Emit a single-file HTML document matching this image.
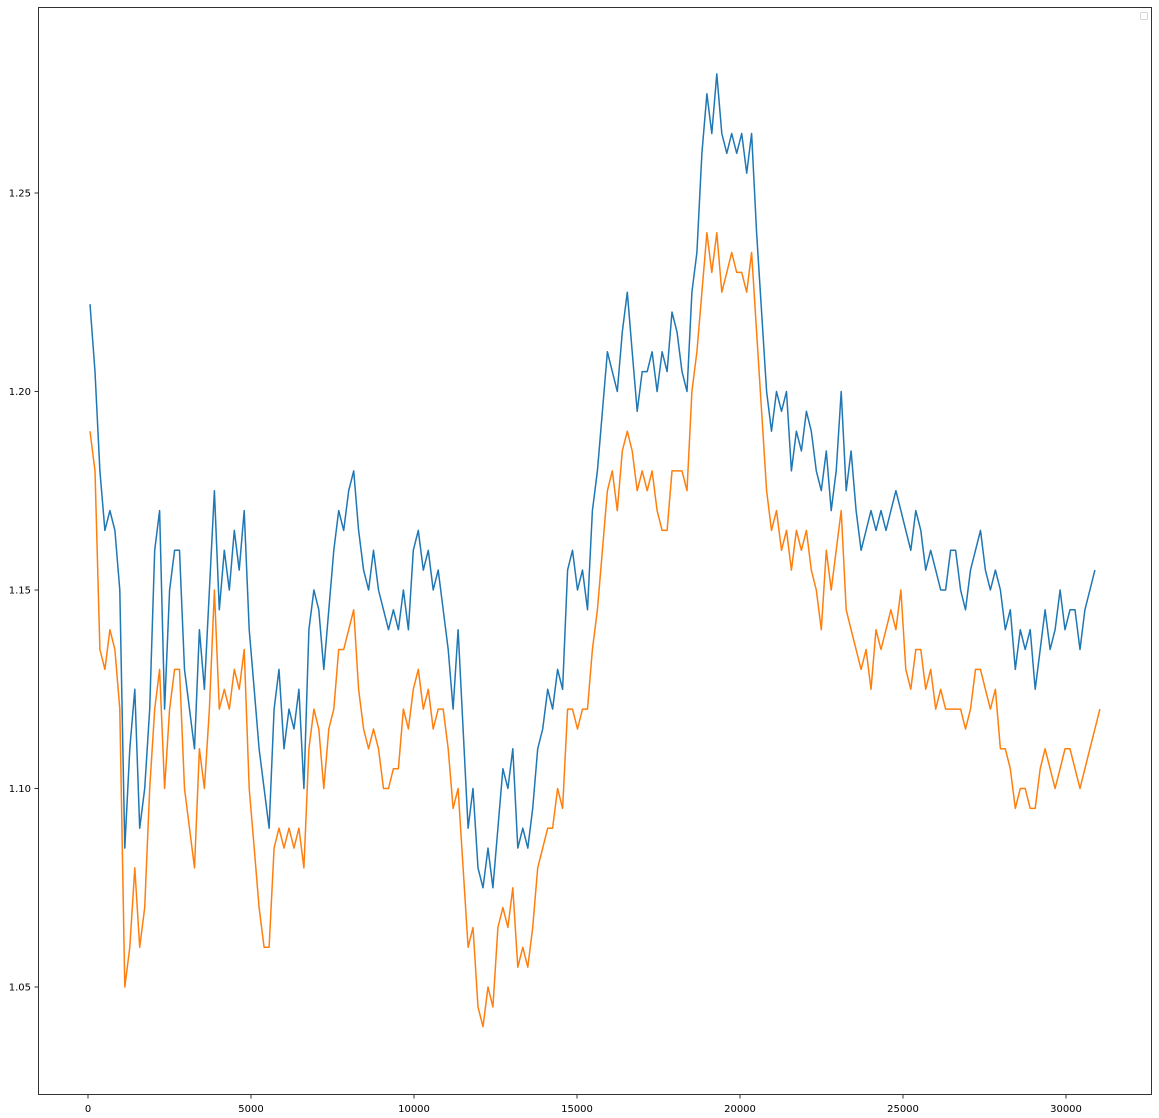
<!DOCTYPE html>
<html>
<head>
<meta charset="utf-8">
<style>
html,body{margin:0;padding:0;background:#fff;}
svg{display:block;font-family:"DejaVu Sans","Liberation Sans",sans-serif;}
</style>
</head>
<body>
<svg id="chart" width="1159" height="1118" viewBox="0 0 1159 1118" xmlns="http://www.w3.org/2000/svg">
  <rect x="0" y="0" width="1159" height="1118" fill="#fff"/>
  <g id="plot"></g>
  <g id="axes"></g>
  <rect x="38.5" y="7.5" width="1113" height="1087" fill="none" stroke="#000" stroke-width="0.8"/>
  <rect x="1140.5" y="12.5" width="7" height="7" fill="#fff" stroke="#ccc" stroke-width="0.8" rx="1"/>
</svg>
<script>
const xTicks = [0, 5000, 10000, 15000, 20000, 25000, 30000];
const xTickLabels = ["0", "5000", "10000", "15000", "20000", "25000", "30000"];
const yTicks = [1.05, 1.10, 1.15, 1.20, 1.25];
const yTickLabels = ["1.05", "1.10", "1.15", "1.20", "1.25"];
const sampleStart = 61;
const sampleStep = 152.6;
const seriesBlue = [1.222,1.205,1.18,1.165,1.17,1.165,1.15,1.085,1.11,1.125,1.09,1.10,1.12,1.16,1.17,1.12,1.15,1.16,1.16,1.13,1.12,1.11,1.14,1.125,1.15,1.175,1.145,1.16,1.15,1.165,1.155,1.17,1.14,1.125,1.11,1.10,1.09,1.12,1.13,1.11,1.12,1.115,1.125,1.10,1.14,1.15,1.145,1.13,1.145,1.16,1.17,1.165,1.175,1.18,1.165,1.155,1.15,1.16,1.15,1.145,1.14,1.145,1.14,1.15,1.14,1.16,1.165,1.155,1.16,1.15,1.155,1.145,1.135,1.12,1.14,1.115,1.09,1.10,1.08,1.075,1.085,1.075,1.09,1.105,1.10,1.11,1.085,1.09,1.085,1.095,1.11,1.115,1.125,1.12,1.13,1.125,1.155,1.16,1.15,1.155,1.145,1.17,1.18,1.195,1.21,1.205,1.20,1.215,1.225,1.21,1.195,1.205,1.205,1.21,1.20,1.21,1.205,1.22,1.215,1.205,1.20,1.225,1.235,1.26,1.275,1.265,1.28,1.265,1.26,1.265,1.26,1.265,1.255,1.265,1.24,1.22,1.20,1.19,1.20,1.195,1.20,1.18,1.19,1.185,1.195,1.19,1.18,1.175,1.185,1.17,1.18,1.20,1.175,1.185,1.17,1.16,1.165,1.17,1.165,1.17,1.165,1.17,1.175,1.17,1.165,1.16,1.17,1.165,1.155,1.16,1.155,1.15,1.15,1.16,1.16,1.15,1.145,1.155,1.16,1.165,1.155,1.15,1.155,1.15,1.14,1.145,1.13,1.14,1.135,1.14,1.125,1.135,1.145,1.135,1.14,1.15,1.14,1.145,1.145,1.135,1.145,1.15,1.155];
const seriesOrange = [1.19,1.18,1.135,1.13,1.14,1.135,1.12,1.05,1.06,1.08,1.06,1.07,1.10,1.12,1.13,1.10,1.12,1.13,1.13,1.10,1.09,1.08,1.11,1.10,1.12,1.15,1.12,1.125,1.12,1.13,1.125,1.135,1.10,1.085,1.07,1.06,1.06,1.085,1.09,1.085,1.09,1.085,1.09,1.08,1.11,1.12,1.115,1.10,1.115,1.12,1.135,1.135,1.14,1.145,1.125,1.115,1.11,1.115,1.11,1.10,1.10,1.105,1.105,1.12,1.115,1.125,1.13,1.12,1.125,1.115,1.12,1.12,1.11,1.095,1.10,1.08,1.06,1.065,1.045,1.04,1.05,1.045,1.065,1.07,1.065,1.075,1.055,1.06,1.055,1.065,1.08,1.085,1.09,1.09,1.10,1.095,1.12,1.12,1.115,1.12,1.12,1.135,1.145,1.16,1.175,1.18,1.17,1.185,1.19,1.185,1.175,1.18,1.175,1.18,1.17,1.165,1.165,1.18,1.18,1.18,1.175,1.20,1.21,1.225,1.24,1.23,1.24,1.225,1.23,1.235,1.23,1.23,1.225,1.235,1.215,1.195,1.175,1.165,1.17,1.16,1.165,1.155,1.165,1.16,1.165,1.155,1.15,1.14,1.16,1.15,1.16,1.17,1.145,1.14,1.135,1.13,1.135,1.125,1.14,1.135,1.14,1.145,1.14,1.15,1.13,1.125,1.135,1.135,1.125,1.13,1.12,1.125,1.12,1.12,1.12,1.12,1.115,1.12,1.13,1.13,1.125,1.12,1.125,1.11,1.11,1.105,1.095,1.10,1.10,1.095,1.095,1.105,1.11,1.105,1.10,1.105,1.11,1.11,1.105,1.10,1.105,1.11,1.115,1.12];

const NS = "http://www.w3.org/2000/svg";
function xScale(v){ return 88 + v * 0.0326; }
function yScale(v){ return 193 + (1.25 - v) * 3970; }

const plot = document.getElementById('plot');
const axes = document.getElementById('axes');

function drawSeries(vals, color, name){
  let d = "";
  vals.forEach((v,i)=>{
    const x = xScale(sampleStart + i*sampleStep), y = yScale(v);
    d += (i ? "L" : "M") + x.toFixed(1) + "," + y.toFixed(1);
  });
  const p = document.createElementNS(NS, 'path');
  p.setAttribute('d', d);
  p.setAttribute('fill', 'none');
  p.setAttribute('stroke', color);
  p.setAttribute('stroke-width', '1.5');
  p.setAttribute('stroke-linejoin', 'round');
  
  
  plot.appendChild(p);
}
drawSeries(seriesBlue, '#1f77b4', 'series-blue-line');
drawSeries(seriesOrange, '#ff7f0e', 'series-orange-line');

xTicks.forEach((t,i)=>{
  const x = xScale(t);
  const l = document.createElementNS(NS,'line');
  l.setAttribute('x1',x); l.setAttribute('x2',x);
  l.setAttribute('y1',1095); l.setAttribute('y2',1098.5);
  l.setAttribute('stroke','#000'); l.setAttribute('stroke-width','0.8');
  
  
  axes.appendChild(l);
  const tx = document.createElementNS(NS,'text');
  tx.setAttribute('x',x); tx.setAttribute('y',1112);
  tx.setAttribute('text-anchor','middle'); tx.setAttribute('font-size','10');
  tx.textContent = xTickLabels[i];
  
  
  axes.appendChild(tx);
});
yTicks.forEach((t,i)=>{
  const y = yScale(t);
  const l = document.createElementNS(NS,'line');
  l.setAttribute('x1',34.5); l.setAttribute('x2',38);
  l.setAttribute('y1',y); l.setAttribute('y2',y);
  l.setAttribute('stroke','#000'); l.setAttribute('stroke-width','0.8');
  
  
  axes.appendChild(l);
  const tx = document.createElementNS(NS,'text');
  tx.setAttribute('x',31); tx.setAttribute('y',y+3.5);
  tx.setAttribute('text-anchor','end'); tx.setAttribute('font-size','10');
  tx.textContent = yTickLabels[i];
  
  
  axes.appendChild(tx);
});
</script>
</body>
</html>
